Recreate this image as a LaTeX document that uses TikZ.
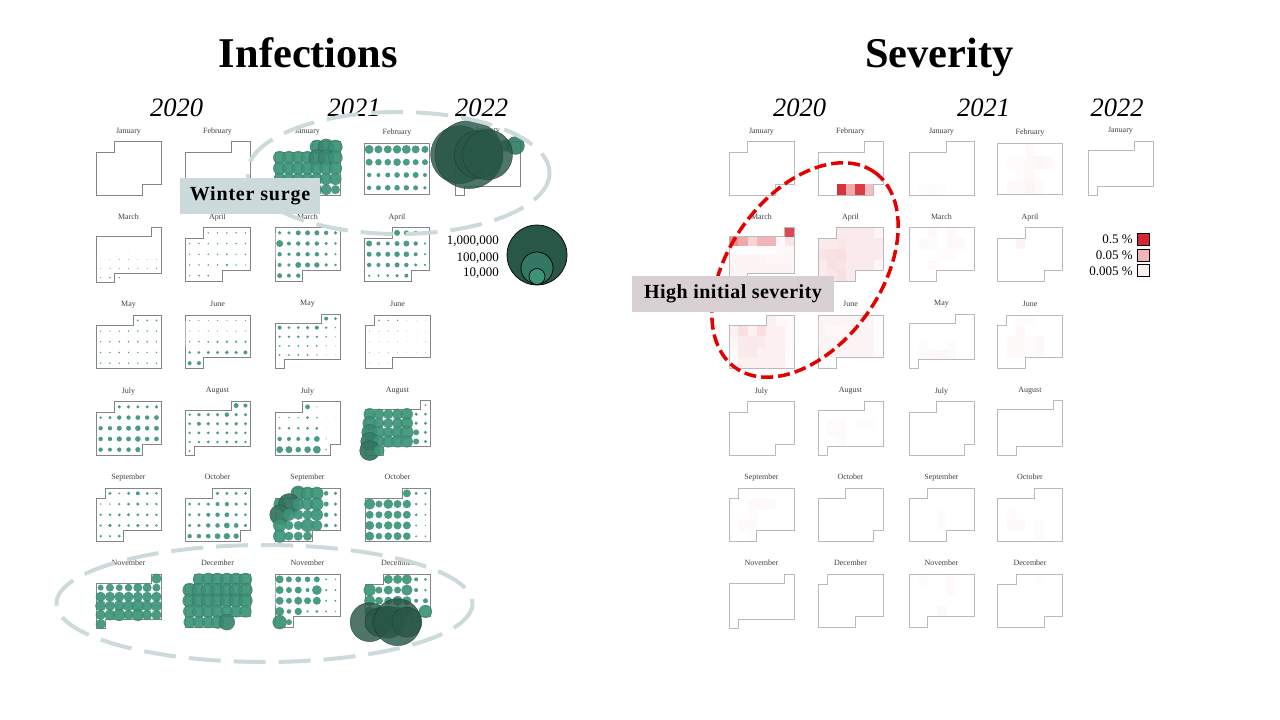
\documentclass[tikz,border=0pt]{standalone}
\usepackage{fontspec}
\setmainfont{Liberation Serif}
\definecolor{bubteal}{HTML}{3C9478}
\definecolor{bubdark}{HTML}{285647}
\definecolor{heatred}{HTML}{D62832}
\definecolor{surgebox}{HTML}{CDDADB}
\definecolor{severebox}{HTML}{D8D0D2}
\tikzset{
    calline/.style={draw=black!48, line width=1pt},
    monthlab/.style={inner sep=0pt, anchor=base, text=black!75, font=\fontsize{8}{9}\selectfont},
    yearlab/.style={inner sep=0pt, anchor=base, font=\itshape\fontsize{26.5}{28}\selectfont},
    titlelab/.style={inner sep=0pt, anchor=base, font=\bfseries\fontsize{42.4}{44}\selectfont},
    legendlab/.style={inner sep=0pt, anchor=base east, font=\fontsize{13}{14}\selectfont},
    surgeloop/.style={draw=surgebox, line width=4pt, dash pattern=on 32pt off 13pt},
    severeloop/.style={draw=red!90!black, line width=3.5pt, dash pattern=on 12pt off 5pt},
    callout/.style={inner sep=0pt, minimum height=36pt, font=\bfseries\fontsize{20}{22}\selectfont}
}
% row height depends on the number of calendar rows
\newcommand{\setrowh}[1]{\pgfmathsetmacro{\rowh}{#1==4 ? 12.8 : (#1==6 ? 9.1 : 10.7)}}
% x, y, first weekday, last cut, rows
\newcommand{\calshape}[5]{({#1},{#2+\rowh}) -- ({#1+#3*9.3},{#2+\rowh}) -- ({#1+#3*9.3},{#2}) -- ({#1+65.1},{#2}) -- ({#1+65.1},{#2+(#5-1)*\rowh}) -- ({#1+#4*9.3},{#2+(#5-1)*\rowh}) -- ({#1+#4*9.3},{#2+#5*\rowh}) -- ({#1},{#2+#5*\rowh}) -- cycle}
% name, x, y, month, first weekday, last cut, rows
\newcommand{\calpanel}[7]{
    \setrowh{#7}
    \node[monthlab] (#1) at ({#2+32.5},{#3-8.5}) {#4};
    \draw[calline] \calshape{#2}{#3}{#5}{#6}{#7};
}
% x, y, first weekday, rows, radius of each day
\newcommand{\bubbles}[5]{
    \setrowh{#4}
    \foreach \rad [count=\d from #3] in {#5} {
        \ifdim\rad pt>0pt
            \pgfmathsetmacro{\mixv}{min(100,max(0,(\rad-6.5)*14))}
            \pgfmathsetmacro{\lineop}{min(0.85,max(0,(\rad-4)*0.11))}
            \pgfmathsetmacro{\fillop}{\rad>12 ? 0.82 : 0.93}
            \pgfmathsetmacro{\cx}{#1+9.3*(mod(\d,7)+0.5)}
            \pgfmathsetmacro{\cy}{#2+\rowh*(int(\d/7)+0.5)}
            \draw[draw=bubdark!70!black, draw opacity=\lineop, line width=0.4pt, fill=bubdark!\mixv!bubteal, fill opacity=\fillop] (\cx,\cy) circle [radius=\rad];
        \fi
    }
}
% x, y, rows, cells col/row/tint
\newcommand{\heat}[4]{
    \setrowh{#3}
    \foreach \col/\row/\tint in {#4} {
        \pgfmathsetmacro{\tintv}{\tint<10 ? \tint*0.55 : \tint}
        \fill[heatred!\tintv] ({#1+\col*9.3},{#2+\row*\rowh}) rectangle ++(9.3,\rowh);
    }
}
% x, y, first weekday, last cut, rows, tint
\newcommand{\heatbase}[6]{
    \setrowh{#5}
    \fill[heatred!#6] \calshape{#1}{#2}{#3}{#4}{#5};
}
\begin{document}
\begin{tikzpicture}[x=1pt, y=-1pt]
    \useasboundingbox (0,0) rectangle (1280,720);
    %titoli
    \node[titlelab] (titleinf) at (308.5,67) {Infections};
    \node[titlelab] (titlesev) at (939.5,67) {Severity};
    \node[yearlab] (inf20) at (176.5,116) {2020};
    \node[yearlab] (inf21) at (354,116) {2021};
    \node[yearlab] (inf22) at (481.5,116) {2022};
    \node[yearlab] (sev20) at (799.5,116) {2020};
    \node[yearlab] (sev21) at (983.5,116) {2021};
    \node[yearlab] (sev22) at (1117,116) {2022};
    %infections 2020
    \calpanel{jana}{96}{141.5}{January}{2}{5}{5}
    \calpanel{feba}{185}{141.5}{February}{5}{6}{5}
    \calpanel{mara}{96}{227.5}{March}{6}{2}{6}
    \bubbles{96}{227.5}{6}{6}{0,0,0,0,0,0,0,0,0,0.2,0.2,0.2,0.2,0.2,0.2,0.2,0.4,0.4,0.4,0.4,0.4,0.4,0.4,0.5,0.5,0.5,0.5,0.6,0.6,0.6,0.8,0.8}
    \calpanel{apra}{185}{227.5}{April}{2}{4}{5}
    \bubbles{185}{227.5}{2}{5}{0.8,0.8,0.8,0.8,0.8,0.8,0.8,0.8,0.8,0.8,0.9,0.8,0.8,0.8,0.8,0.8,0.9,0.8,0.8,0.8,0.8,0.8,0.8,1.2,0.8,0.7,0.7,1,1}
    \calpanel{maya}{96}{315}{May}{4}{7}{5}
    \bubbles{96}{315}{4}{5}{1,1,1,0.7,0.7,0.7,0.8,0.8,0.8,0.8,0.7,0.8,0.8,0.9,0.9,0.9,0.8,0.8,0.8,0.8,0.8,0.8,0.8,0.8,0.8,0.8,0.8,0.8,0.8,0.8,0.8}
    \calpanel{juna}{185}{315}{June}{0}{2}{5}
    \bubbles{185}{315}{0}{5}{0.6,0.6,0.6,0.6,0.6,0.6,0.6,0.5,0.5,0.6,0.6,0.6,0.6,0.6,0.8,0.9,1,1.2,1.2,1.2,1.2,1.4,1.5,1.7,1.6,1.9,1.8,2,2,2}
    \calpanel{jula}{96}{401.5}{July}{2}{5}{5}
    \bubbles{96}{401.5}{2}{5}{1.7,1.7,1.7,1.7,1.7,1.4,1.7,2.2,2.2,2.4,2.2,2.4,2.2,2.2,2.5,2.5,2.8,2.3,2.5,2.2,2.2,2.6,2.4,2.8,2.2,2.3,2.2,2,2.2,2.3,2.6}
    \calpanel{auga}{185}{401}{August}{5}{1}{6}
    \bubbles{185}{401}{5}{6}{2.5,2,1.3,1.8,1.7,1.8,2.2,1.8,1.7,1.5,2,1.9,1.7,1.7,1.9,1.6,1.3,1.6,1.6,1.6,1.6,1.6,1.4,1.2,1.3,1.5,1.4,1.6,1.6,1.3,1}
    \calpanel{sepa}{96}{488}{September}{1}{3}{5}
    \bubbles{96}{488}{1}{5}{1.6,1,1.6,2,1.5,1.4,0.8,0.8,1.2,1.5,1.7,1.3,1.3,1.2,1.4,1.5,1.6,1.5,1.4,1.3,1.2,1.8,1.4,1.4,1.8,1.5,1.3,1.3,1.2,1.5}
    \calpanel{octa}{185}{488}{October}{3}{6}{5}
    \bubbles{185}{488}{3}{5}{1.7,1.7,1.7,1.5,1.5,1.4,1.8,2,2.1,1.8,1.6,1.5,1.6,2,2.2,2.4,1.8,1.5,1.8,1.8,2.2,2.3,2.9,2.4,1.8,2.2,2.2,2.4,2.9,3.2,2.7}
    \calpanel{nova}{96}{574}{November}{6}{1}{6}
    \bubbles{96}{574}{6}{6}{5,3,4,3.5,3.8,4.5,4.5,4,5,5,5,5,5,5,5,5.5,5,5.5,5.5,6,5.5,5.5,5,5.5,6,5,6,5,5,5}
    \calpanel{deca}{185}{574}{December}{1}{4}{5}
    \bubbles{185}{574}{1}{5}{6,6.5,6.5,6.5,6.5,6.5,7,7,7,7,7,7,7,7,7,7,7,7,7,7,6.5,6.5,6.5,6.5,6,6,6,6,6,6,6.5,8}
    %infections 2021
    \calpanel{janb}{275}{141.5}{January}{4}{7}{5}
    \bubbles{275}{141.5}{4}{5}{7,8,7,6.5,6.5,6.5,6.5,8,8,7,6.5,6.5,6.5,6.5,6.5,6.5,6.5,6,6,6,6,6,6,6,4.5,4.5,4.5,4.5,5.5,5.5,4.5}
    \calpanel{febb}{364.5}{143}{February}{0}{7}{4}
    \bubbles{364.5}{143}{0}{4}{4.4,4,4,4.2,4.4,4,3.5,3.5,3.3,3.3,3.8,3.5,3,3,2.2,2,2.5,2.8,2.8,3,2,2.2,2.5,2.8,2.8,2.7,2.5,1.8}
    \calpanel{marb}{275}{227.5}{March}{0}{3}{5}
    \bubbles{275}{227.5}{0}{5}{1.8,1.8,2.5,2.5,2.5,2.2,1.7,3.5,2,2.2,2.2,2.2,1.7,1.4,2.2,1.8,2.2,2.2,2.2,1.7,1.2,2,1.8,3,2.5,2.7,1.8,1.4,2.5,2,2.2}
    \calpanel{aprb}{364.5}{227.5}{April}{3}{5}{5}
    \bubbles{364.5}{227.5}{3}{5}{3,2.5,2,1.3,3,2,2,2.5,3,2.2,1.2,2.5,2.5,2.5,2.8,2.8,2,1.2,2.2,2,2.2,2.5,2.2,1.7,1.2,1.2,1.2,1.5,1.8,2}
    \calpanel{mayb}{275}{314}{May}{5}{1}{6}
    \bubbles{275}{314}{5}{6}{2,1.5,2,1.5,1.5,1.8,2,1.3,0.8,1.3,1.3,1.3,1.3,1.2,0.9,0.5,1,1,1,1,1,0.7,0.4,1,1,1,1,0.7,0.4,0.3,0.3}
    \calpanel{junb}{365}{315}{June}{1}{3}{5}
    \bubbles{365}{315}{1}{5}{0.9,0.8,0.8,0.3,0.3,0.3,0.5,0.5,0.5,0.5,0.4,0.3,0.3,0.4,0.4,0.4,0.4,0.3,0.3,0.3,0.4,0.4,0.4,0.3,0.3,0.3,0.3,0.4,0.4,0.4}
    \calpanel{julb}{275}{401.5}{July}{3}{6}{5}
    \bubbles{275}{401.5}{3}{5}{2.4,0.6,0.2,0.2,0.5,0.8,0.8,1.5,0.9,0.2,0.2,1.3,1.4,1.4,1.5,1.6,0.3,0.2,2.2,2,2,2.1,2.9,0.6,0.2,3.4,3.5,2.8,3.3,3.9,0.8}
    \calpanel{augb}{365}{400.5}{August}{6}{2}{6}
    \bubbles{365}{400.5}{6}{6}{1,6,5.5,5,5.5,6,1.7,1.5,7,5.5,5,5.5,6,1.7,1.7,8,6,5.5,6,6.5,3,1.6,9,6,6,6,6,3,1.6,10,5.5}
    \calpanel{sepb}{275}{488}{September}{2}{4}{5}
    \bubbles{275}{488}{2}{5}{7.5,6.5,6.5,2.3,1.7,6,10.5,6,6,6.5,2.5,1.7,10,6,5,5,6,2.3,1.6,6.5,4.5,4.5,6.5,5.5,2,1.6,6.5,4.5,4.5,4.5}
    \calpanel{octb}{365}{488}{October}{4}{7}{5}
    \bubbles{365}{488}{4}{5}{4,1.6,1.3,5.5,3.5,4.8,4,4.2,1.3,1,4,3.5,4.2,4,4,1.4,1,4.5,3.5,4.2,4,4,1,0.6,4.5,3.3,3.8,4,3.8,1,0.8}
    \calpanel{novb}{275}{574}{November}{0}{2}{5}
    \bubbles{275}{574}{0}{5}{4,3,3,2.8,3,1,0.8,4,3,3.5,2,4.8,1.2,1,4,3,4,3.5,4,1,1,4.5,2.3,3.7,1.2,1.5,1,0.7,7,3}
    \calpanel{decb}{365}{574}{December}{2}{5}{5}
    \bubbles{365}{574}{2}{5}{4.5,4.5,5,2,1.5,6,3.5,4.5,3.5,5.5,2,1.3,5.5,4,4,5,4.5,2,2.5,5,5,5,5,5,0,6.5,19.5,14,16,23.5,15}
    %infections 2022
    \calpanel{janc}{455}{141}{January}{5}{1}{6}
    \bubbles{455}{141}{5}{6}{6,9,29,34,24,25}
    %legenda infections
    \draw[black, line width=0.7pt, fill=bubdark] (537,255) circle [radius=30];
    \draw[black, line width=0.7pt, fill=bubdark!45!bubteal] (537,268) circle [radius=16];
    \draw[black, line width=0.7pt, fill=bubteal] (537,276.5) circle [radius=8];
    \node[legendlab] (leg1m) at (499,244.5) {1,000,000};
    \node[legendlab] (leg100k) at (499,261) {100,000};
    \node[legendlab] (leg10k) at (499,276.5) {10,000};
    %severity 2020
    \begin{scope}[calline/.style={draw=black!27, line width=1pt}]
        \calpanel{jans}{729}{141.5}{January}{2}{5}{5}
        \heat{818}{141.5}{5}{2/4/95, 3/4/40, 4/4/90, 5/4/30}
        \calpanel{febs}{818}{141.5}{February}{5}{6}{5}
        \heatbase{729}{227.5}{6}{2}{6}{5}
        \heat{729}{227.5}{6}{6/0/85, 0/1/55, 1/1/40, 2/1/20, 3/1/35, 4/1/35, 5/1/4, 6/1/12, 0/2/3, 1/2/2, 2/2/3, 3/2/2, 4/2/2, 5/2/4, 6/2/6, 4/3/7, 5/3/7}
        \calpanel{mars}{729}{227.5}{March}{6}{2}{6}
        \heatbase{818}{227.5}{2}{4}{5}{10}
        \heat{818}{227.5}{5}{2/1/12, 0/2/13, 1/2/14, 2/2/15, 1/3/14, 2/3/13, 2/4/15, 1/4/12, 6/0/8, 6/3/8}
        \calpanel{aprs}{818}{227.5}{April}{2}{4}{5}
        \heatbase{729}{315}{4}{7}{5}{7}
        \heat{729}{315}{5}{1/1/15, 3/1/15, 0/2/8, 1/2/10, 2/2/11, 3/2/10, 1/3/10, 2/3/10, 5/0/5, 6/0/4, 6/1/4, 6/2/4, 6/3/3, 0/3/4, 0/4/3, 6/4/3}
        \calpanel{mays}{729}{315}{}{4}{7}{5}
        \heatbase{818}{315}{0}{2}{5}{5}
        \heat{818}{315}{5}{0/4/1, 1/4/1, 6/0/2, 6/1/2, 6/2/2, 6/3/2, 1/1/6, 2/1/6}
        \calpanel{juns}{818}{315}{June}{0}{2}{5}
        \calpanel{juls}{729}{401.5}{July}{2}{5}{5}
        \heat{818}{401}{6}{1/2/3, 2/2/4, 2/3/4, 1/3/3, 4/2/3, 5/2/3, 2/4/3}
        \calpanel{augs}{818}{401}{August}{5}{1}{6}
        \heat{729}{488}{5}{2/1/4, 3/1/5, 4/1/4, 2/2/3, 1/3/4, 2/3/4, 2/4/2}
        \calpanel{seps}{729}{488}{September}{1}{3}{5}
        \calpanel{octs}{818}{488}{October}{3}{6}{5}
        \calpanel{novs}{729}{574}{November}{6}{1}{6}
        \calpanel{decs}{818}{574}{December}{1}{4}{5}
        %severity 2021
        \heat{909}{141.5}{5}{1/4/2, 2/4/3, 3/4/2}
        \calpanel{jant}{909}{141.5}{January}{4}{7}{5}
        \heat{997.5}{143}{4}{3/0/6, 1/1/3, 2/1/3, 3/1/5, 4/1/8, 5/1/5, 2/2/3, 3/2/5, 1/3/6, 2/3/5, 3/3/9, 4/3/4}
        \calpanel{febt}{997.5}{143}{February}{0}{7}{4}
        \heat{909}{227.5}{5}{2/0/5, 4/0/5, 1/1/4, 2/1/3, 4/1/6, 5/1/5, 3/2/3, 4/2/3, 2/3/4}
        \calpanel{mart}{909}{227.5}{March}{0}{3}{5}
        \heat{997.5}{227.5}{5}{2/1/9}
        \calpanel{aprt}{997.5}{227.5}{April}{3}{5}{5}
        \heat{909}{314}{6}{1/3/3, 4/3/3, 1/4/4, 2/4/6, 3/4/8, 4/4/5}
        \calpanel{mayt}{909}{314}{May}{5}{1}{6}
        \heat{997.5}{315}{5}{2/1/7, 1/2/4, 2/2/4, 3/2/3, 4/2/6, 1/3/5, 2/3/4, 3/3/3, 4/3/5, 2/0/3, 3/0/3}
        \calpanel{junt}{997.5}{315}{June}{1}{3}{5}
        \calpanel{jult}{909}{401.5}{July}{3}{6}{5}
        \calpanel{augt}{997.5}{400.5}{August}{6}{2}{6}
        \heat{909}{488}{5}{3/2/3, 3/3/3}
        \calpanel{sept}{909}{488}{September}{2}{4}{5}
        \heat{997.5}{488}{5}{1/2/3, 1/3/5, 2/3/5, 4/3/3, 4/4/3}
        \calpanel{octt}{997.5}{488}{October}{4}{7}{5}
        \heat{909}{574}{5}{1/0/3, 4/0/4, 4/1/4, 3/3/6}
        \calpanel{novt}{909}{574}{November}{0}{2}{5}
        \heat{997.5}{574}{5}{4/0/2}
        \calpanel{dect}{997.5}{574}{December}{2}{5}{5}
        %severity 2022
        \calpanel{janu}{1088}{141}{January}{5}{1}{6}
    \end{scope}
    %legenda severity
    \draw[black, line width=0.8pt, fill=heatred] (1137.5,233.5) rectangle (1149.5,245.5);
    \draw[black, line width=0.8pt, fill=heatred!35] (1137.5,249) rectangle (1149.5,261);
    \draw[black, line width=0.8pt, fill=heatred!7] (1137.5,264.5) rectangle (1149.5,276.5);
    \node[legendlab] (sevhigh) at (1133,243.5) {0.5 \%};
    \node[legendlab] (sevmid) at (1133,259) {0.05 \%};
    \node[legendlab] (sevlow) at (1133,275.5) {0.005 \%};
    %ellissi
    \draw[surgeloop] (398.5,173) ellipse [x radius=151, y radius=61];
    \draw[surgeloop] (264.5,603.5) ellipse [x radius=208, y radius=58.5];
    \draw[severeloop, rotate around={54.5:(805,270)}] (805,270) ellipse [x radius=120, y radius=76];
    %etichette
    \node[callout, fill=surgebox, minimum width=140pt] (wintersurge) at (250,196) {\addfontfeature{LetterSpace=4}Winter surge};
    \node[callout, fill=severebox, minimum width=202pt] (highseverity) at (733,294) {\addfontfeature{LetterSpace=2.5}High initial severity};
\end{tikzpicture}
\end{document}
